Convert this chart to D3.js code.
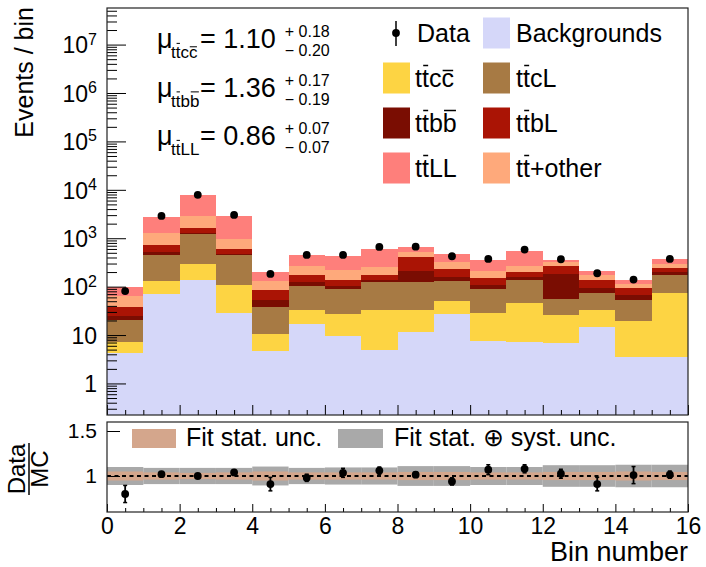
<!DOCTYPE html>
<html>
<head>
<meta charset="utf-8">
<script src="https://cdn.jsdelivr.net/npm/d3@7"></script>
<style>
  html, body { margin: 0; padding: 0; background: #fff; }
  svg { display: block; font-family: 'Liberation Sans', Arial, Helvetica, sans-serif; }
</style>
</head>
<body>
<svg id="chart" width="706" height="567"></svg>
<script>
// ---- data -------------------------------------------------------------
const binLow = [0, 1, 2, 3, 4, 5, 6, 7, 8, 9, 10, 11, 12, 13, 14, 15];

// per-process yields, stacked bottom to top
const backgrounds = [4.2, 69, 135, 28.5, 4.6, 17.2, 9.4, 5.0, 11.5, 26.8, 7.5, 7.2, 6.8, 14.6, 3.6, 3.6];
const ttcc        = [3.0, 62, 155, 77.5, 5.7, 15.2, 17.4, 28.5, 22, 23, 21.5, 37.8, 18.7, 17.8, 15.9, 70];
const ttcL        = [12.8, 314, 905, 339, 27.7, 72.6, 61.2, 91.5, 91.5, 81, 62, 95, 31, 41.3, 32.5, 104];
const ttbb        = [4.3, 76, 118, 20, 16, 20, 14, 10, 86, 27, 19, 18, 123.5, 20.3, 16, 22];
const ttbL        = [13.7, 195, 347, 147, 33, 53, 38, 39, 199, 78, 41, 42, 87, 46, 26, 47];
const ttOther     = [25, 574, 1190, 373, 44, 86, 78, 80, 111, 87, 60, 72, 51, 32, 18, 53];
const ttLL        = [35, 1470, 4920, 1865, 67, 196, 220, 359, 124, 143, 140, 266, 33, 36, 23, 68];

const dataCounts  = [81, 2890, 7870, 3030, 183, 451, 452, 660, 670, 424, 373, 584, 368, 189, 140, 373];

// Data / MC ratio and its uncertainty
const ratio       = [0.80, 1.02, 1.00, 1.04, 0.91, 0.98, 1.035, 1.06, 1.015, 0.94, 1.07, 1.08, 1.025, 0.91, 1.01, 1.015];
const ratioErr    = [0.095, 0.02, 0.02, 0.025, 0.075, 0.04, 0.05, 0.04, 0.03, 0.04, 0.055, 0.045, 0.05, 0.075, 0.095, 0.04];
const statUnc     = [0.05, 0.04, 0.035, 0.04, 0.05, 0.04, 0.04, 0.04, 0.045, 0.045, 0.04, 0.04, 0.045, 0.045, 0.05, 0.045];
const totalUnc    = [0.10, 0.09, 0.09, 0.09, 0.105, 0.09, 0.095, 0.095, 0.11, 0.11, 0.10, 0.10, 0.12, 0.12, 0.125, 0.125];

// fitted signal strengths
const muNames  = ["tt\u0304cc\u0304", "tt\u0304bb\u0304", "tt\u0304LL"];
const muValues = ["1.10", "1.36", "0.86"];
const muUp     = ["0.18", "0.17", "0.07"];
const muDown   = ["0.20", "0.19", "0.07"];

// process names / colours
const seriesKeys   = ["bkg", "ttcc", "ttcL", "ttbb", "ttbL", "ttOther", "ttLL"];
const seriesNames  = ["Backgrounds", "tt\u0304cc\u0304", "tt\u0304cL", "tt\u0304bb\u0304", "tt\u0304bL", "tt\u0304+other", "tt\u0304LL"];
const seriesColors = ["#d5d7f9", "#fdd443", "#a77a44", "#7a0d02", "#aa1405", "#fea97b", "#fe7f7b"];

const yMajorTicks = [1, 10, 100, 1e3, 1e4, 1e5, 1e6, 1e7];
const xMajorTicks = [0, 2, 4, 6, 8, 10, 12, 14, 16];
const ratioTicks  = [1, 1.5];

// ---- layout -----------------------------------------------------------
const FONT = "'Liberation Sans', Arial, Helvetica, sans-serif";
const L = 107, R = 688;
const mainTop = 8, mainBot = 415;
const ratTop = 422, ratBot = 512;

const svg = d3.select("#chart");

const x  = d3.scaleLinear().domain([0, 16]).range([L, R]);
const y  = d3.scaleLog().domain([0.223, 5.7e7]).range([mainBot, mainTop]).clamp(true);
const yr = d3.scaleLinear().domain([0.6, 1.6]).range([ratBot, ratTop]);

// text with barred characters (combining macron marks the bar)
function barredText(g, px, py, fs, label) {
  const chars = [];
  for (const ch of label) {
    if (ch === "\u0304") chars[chars.length - 1].bar = true;
    else chars.push({ c: ch, bar: false });
  }
  const t = g.append("text")
    .attr("x", px).attr("y", py)
    .attr("font-size", fs)
    .attr("font-family", FONT)
    .attr("fill", "#000")
    .text(chars.map(d => d.c).join(""));
  const node = t.node();
  chars.forEach((d, i) => {
    if (!d.bar) return;
    const ext = node.getExtentOfChar(i);
    const k = "aceosuvwxz".includes(d.c) ? 0.66 : 0.86;
    g.append("line")
      .attr("x1", ext.x + 0.05 * fs).attr("x2", ext.x + ext.width - 0.03 * fs)
      .attr("y1", py - k * fs).attr("y2", py - k * fs)
      .attr("stroke", "#000").attr("stroke-width", Math.max(1, fs * 0.06));
  });
  return t;
}

// ---- main panel: stacked histogram -----------------------------------
const table = binLow.map((b, i) => ({
  bin: b,
  bkg: backgrounds[i], ttcc: ttcc[i], ttcL: ttcL[i], ttbb: ttbb[i],
  ttbL: ttbL[i], ttOther: ttOther[i], ttLL: ttLL[i]
}));
const stacked = d3.stack().keys(seriesKeys)(table);

const gStack = svg.append("g");
stacked.forEach((layer, si) => {
  gStack.selectAll(null)
    .data(layer)
    .join("rect")
    .attr("x", d => x(d.data.bin))
    .attr("width", d => x(d.data.bin + 1) - x(d.data.bin))
    .attr("y", d => y(d[1]))
    .attr("height", d => (d[0] <= 0 ? mainBot : y(d[0])) - y(d[1]))
    .attr("fill", seriesColors[si])
    .attr("shape-rendering", "crispEdges");
});

// main axes (ticks pointing into the frame)
function logMinorTicks() {
  const out = [];
  for (let e = -1; e <= 7; e++) {
    for (let m = 2; m <= 9; m++) {
      const v = m * Math.pow(10, e);
      if (v >= y.domain()[0] && v <= y.domain()[1]) out.push(v);
    }
  }
  return out;
}

const gyMinor = svg.append("g").attr("transform", `translate(${L},0)`)
  .call(d3.axisLeft(y).tickValues(logMinorTicks()).tickSize(-10).tickFormat(""));
const gyMajor = svg.append("g").attr("transform", `translate(${L},0)`)
  .call(d3.axisLeft(y).tickValues(yMajorTicks).tickSize(-19).tickPadding(10).tickFormat(""));
[gyMinor, gyMajor].forEach(g => {
  g.select(".domain").remove();
  g.selectAll("line").attr("stroke", "#000").attr("stroke-width", 1);
});
gyMajor.selectAll(".tick text").each(function (v) {
  const t = d3.select(this)
    .attr("font-family", FONT).attr("font-size", 23).attr("fill", "#000")
    .attr("dy", "0.36em");
  const exp = Math.round(Math.log10(v));
  if (exp === 0) t.text("1");
  else if (exp === 1) t.text("10");
  else {
    t.append("tspan").text("10");
    t.append("tspan").attr("font-size", 16).attr("dy", "-0.55em").text(String(exp));
  }
});

const xHalfTicks = d3.range(0, 16.01, 0.5).filter(v => v % 2 !== 0);
[[xHalfTicks, -5], [xMajorTicks, -10]].forEach(([vals, len]) => {
  const g = svg.append("g").attr("transform", `translate(0,${mainBot})`)
    .call(d3.axisBottom(x).tickValues(vals).tickSize(len).tickFormat(""));
  g.select(".domain").remove();
  g.selectAll("line").attr("stroke", "#000");
});

// data points
const gData = svg.append("g");
binLow.forEach((b, i) => {
  const cx = x(b + 0.5), n = dataCounts[i], e = Math.sqrt(n);
  gData.append("line").attr("x1", cx).attr("x2", cx)
    .attr("y1", y(n + e)).attr("y2", y(n - e))
    .attr("stroke", "#000").attr("stroke-width", 1.5);
  gData.append("circle").attr("cx", cx).attr("cy", y(n)).attr("r", 3.9).attr("fill", "#000");
});

svg.append("rect").attr("x", L).attr("y", mainTop)
  .attr("width", R - L).attr("height", mainBot - mainTop)
  .attr("fill", "none").attr("stroke", "#222").attr("stroke-width", 1.2);

// y title
svg.append("text")
  .attr("transform", "translate(33,7) rotate(-90)")
  .attr("text-anchor", "end")
  .attr("font-family", FONT).attr("font-size", 25)
  .text("Events / bin");

// signal strength annotations
const gMu = svg.append("g");
muNames.forEach((nm, r) => {
  const base = 48 + r * 48.5;
  gMu.append("text").attr("x", 157).attr("y", base)
    .attr("font-family", FONT).attr("font-size", 27).text("\u03bc");
  barredText(gMu, 171, base + 10, 17, nm);
  const main = gMu.append("text").attr("x", 200).attr("y", base)
    .attr("font-family", FONT).attr("font-size", 27)
    .text("= " + muValues[r]);
  const xe = 200 + main.node().getComputedTextLength() + 9;
  gMu.append("text").attr("x", xe).attr("y", base - 11)
    .attr("font-family", FONT).attr("font-size", 16).text("+ " + muUp[r]);
  gMu.append("text").attr("x", xe).attr("y", base + 8)
    .attr("font-family", FONT).attr("font-size", 16).text("\u2212 " + muDown[r]);
});

// legend
const gLeg = svg.append("g");
const legRowY = [33, 78, 123, 168];
const legFs = 25;
// Data entry
gLeg.append("line").attr("x1", 396).attr("x2", 396)
  .attr("y1", legRowY[0] - 12).attr("y2", legRowY[0] + 13)
  .attr("stroke", "#000").attr("stroke-width", 1.5);
gLeg.append("circle").attr("cx", 396).attr("cy", legRowY[0]).attr("r", 3.9).attr("fill", "#000");
gLeg.append("text").attr("x", 417).attr("y", legRowY[0] + 9)
  .attr("font-family", FONT).attr("font-size", legFs).text("Data");
// process entries: [series index, column, row]
const legendSlots = [[0, 1, 0], [1, 0, 1], [2, 1, 1], [3, 0, 2], [4, 1, 2], [6, 0, 3], [5, 1, 3]];
legendSlots.forEach(([si, col, row]) => {
  const bx = col === 0 ? 383 : 483;
  const cy = legRowY[row];
  gLeg.append("rect").attr("x", bx).attr("y", cy - 15.5)
    .attr("width", 27).attr("height", 31).attr("fill", seriesColors[si]);
  barredText(gLeg, bx + (col === 0 ? 32 : 33), cy + 9, legFs, seriesNames[si]);
});

// ---- ratio panel ------------------------------------------------------
const gBand = svg.append("g");
binLow.forEach((b, i) => {
  gBand.append("rect").attr("x", x(b)).attr("width", x(b + 1) - x(b))
    .attr("y", yr(1 + totalUnc[i])).attr("height", yr(1 - totalUnc[i]) - yr(1 + totalUnc[i]))
    .attr("fill", "#a9a9a9");
  gBand.append("rect").attr("x", x(b)).attr("width", x(b + 1) - x(b))
    .attr("y", yr(1 + statUnc[i])).attr("height", yr(1 - statUnc[i]) - yr(1 + statUnc[i]))
    .attr("fill", "#d4a68c");
});

svg.append("line").attr("x1", L).attr("x2", R).attr("y1", yr(1)).attr("y2", yr(1))
  .attr("stroke", "#000").attr("stroke-width", 2).attr("stroke-dasharray", "4,3.5");

const gRat = svg.append("g");
binLow.forEach((b, i) => {
  const cx = x(b + 0.5);
  const lo = yr(ratio[i] - ratioErr[i]), hi = yr(ratio[i] + ratioErr[i]);
  gRat.append("line").attr("x1", cx).attr("x2", cx).attr("y1", hi).attr("y2", lo)
    .attr("stroke", "#000").attr("stroke-width", 1.8);
  [hi, lo].forEach(v => gRat.append("line").attr("x1", cx - 2).attr("x2", cx + 2)
    .attr("y1", v).attr("y2", v).attr("stroke", "#000").attr("stroke-width", 1.5));
  gRat.append("circle").attr("cx", cx).attr("cy", yr(ratio[i])).attr("r", 3.9).attr("fill", "#000");
});

// ratio legend
const gRL = svg.append("g");
gRL.append("rect").attr("x", 132).attr("y", 429).attr("width", 44).attr("height", 19).attr("fill", "#d4a68c");
gRL.append("text").attr("x", 186).attr("y", 446).attr("font-family", FONT).attr("font-size", 25)
  .text("Fit stat. unc.");
gRL.append("rect").attr("x", 338).attr("y", 429).attr("width", 45).attr("height", 19).attr("fill", "#a9a9a9");
gRL.append("text").attr("x", 394).attr("y", 446).attr("font-family", FONT).attr("font-size", 25)
  .text("Fit stat. \u2295 syst. unc.");

// ratio axes
const gRy = svg.append("g").attr("transform", `translate(${L},0)`)
  .call(d3.axisLeft(yr).tickValues(ratioTicks).tickSize(-13).tickPadding(10)
    .tickFormat(d => d === 1 ? "1" : d3.format(".1f")(d)));
gRy.select(".domain").remove();
gRy.selectAll("line").attr("stroke", "#000");
gRy.selectAll("text").attr("font-family", FONT).attr("font-size", 21).attr("fill", "#000");

[[xHalfTicks, -4], [xMajorTicks, -8]].forEach(([vals, len], k) => {
  const g = svg.append("g").attr("transform", `translate(0,${ratBot})`)
    .call(d3.axisBottom(x).tickValues(vals).tickSize(len).tickPadding(6)
      .tickFormat(k === 1 ? d3.format("d") : ""));
  g.select(".domain").remove();
  g.selectAll("line").attr("stroke", "#000");
  g.selectAll("text").attr("font-family", FONT).attr("font-size", 23).attr("fill", "#000");
});

svg.append("rect").attr("x", L).attr("y", ratTop)
  .attr("width", R - L).attr("height", ratBot - ratTop)
  .attr("fill", "none").attr("stroke", "#222").attr("stroke-width", 1.2);

// ratio y title: Data / MC fraction
const gFrac = svg.append("g").attr("transform", "translate(29,469) rotate(-90)");
gFrac.append("text").attr("text-anchor", "middle").attr("y", -4)
  .attr("font-family", FONT).attr("font-size", 24).text("Data");
gFrac.append("line").attr("x1", -26).attr("x2", 26).attr("y1", 0).attr("y2", 0)
  .attr("stroke", "#000").attr("stroke-width", 1.5);
gFrac.append("text").attr("text-anchor", "middle").attr("y", 19)
  .attr("font-family", FONT).attr("font-size", 24).text("MC");

// x title
svg.append("text").attr("x", R).attr("y", 561).attr("text-anchor", "end")
  .attr("font-family", FONT).attr("font-size", 27).text("Bin number");
</script>
</body>
</html>
